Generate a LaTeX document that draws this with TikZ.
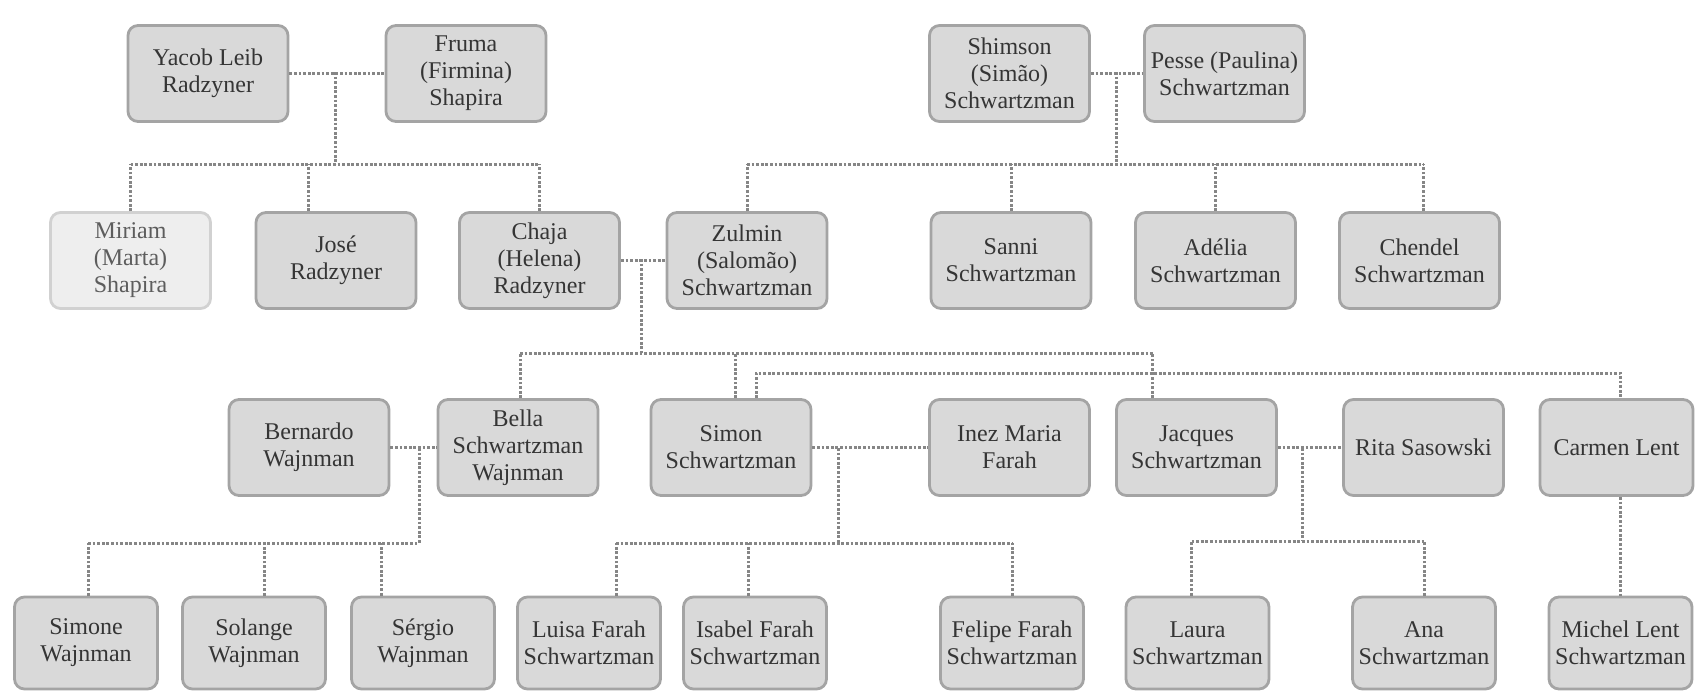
\documentclass[tikz,border=0pt]{standalone}
\usepackage{fontspec}
\setmainfont{Liberation Serif}

\definecolor{boxfill}{HTML}{D9D9D9}
\definecolor{boxline}{HTML}{A4A4A4}
\definecolor{linkgray}{HTML}{868686}
\definecolor{textgray}{HTML}{353535}

\tikzset{
  person/.style={draw=boxline, fill=boxfill, line width=1.4pt, rounded corners=5pt,
    minimum width=80pt, minimum height=48pt, inner sep=1pt, align=center,
    text=textgray, font=\fontsize{12}{13.5}\selectfont},
  young/.style={person, minimum width=71.5pt, minimum height=46pt},
  faded/.style={draw=boxline!50, fill=boxfill!45, text=textgray!80},
  link/.style={linkgray, line width=1.5pt, dash pattern=on 1.4pt off 0.9pt}
}

\begin{document}
\begin{tikzpicture}[x=0.5pt, y=-0.5pt]
\useasboundingbox (0,0) rectangle (1695,691);

% Grandparents
\node[person] (yacob) at (208,73.5) {Yacob Leib\\Radzyner};
\node[person] (fruma) at (466,73.5) {Fruma\\(Firmina)\\Shapira};
\node[person] (shimson) at (1009.5,73.5) {Shimson\\(Simão)\\Schwartzman};
\node[person] (pesse) at (1224.5,73.5) {Pesse (Paulina)\\Schwartzman};

% Parents and uncles
\node[person, faded] (miriam) at (130.5,260.5) {Miriam\\(Marta)\\Shapira};
\node[person] (jose) at (336,260.5) {José\\Radzyner};
\node[person] (chaja) at (539.5,260.5) {Chaja\\(Helena)\\Radzyner};
\node[person] (zulmin) at (747,260.5) {Zulmin\\(Salomão)\\Schwartzman};
\node[person] (sanni) at (1011,260.5) {Sanni\\Schwartzman};
\node[person] (adelia) at (1215.5,260.5) {Adélia\\Schwartzman};
\node[person] (chendel) at (1419.5,260.5) {Chendel\\Schwartzman};

% Children and partners
\node[person] (bernardo) at (309,447.5) {Bernardo\\Wajnman};
\node[person] (bella) at (518,447.5) {Bella\\Schwartzman\\Wajnman};
\node[person] (simon) at (731,447.5) {Simon\\Schwartzman};
\node[person] (inez) at (1009.5,447.5) {Inez Maria\\Farah};
\node[person] (jacques) at (1196.5,447.5) {Jacques\\Schwartzman};
\node[person] (rita) at (1423.5,447.5) {Rita Sasowski};
\node[person, minimum width=76.5pt] (carmen) at (1616.5,447.5) {Carmen Lent};

% Grandchildren
\node[young] (simone) at (86,643) {Simone\\Wajnman};
\node[young] (solange) at (254,643) {Solange\\Wajnman};
\node[young] (sergio) at (423,643) {Sérgio\\Wajnman};
\node[young] (luisa) at (589,643) {Luisa Farah\\Schwartzman};
\node[young] (isabel) at (755,643) {Isabel Farah\\Schwartzman};
\node[young] (felipe) at (1012,643) {Felipe Farah\\Schwartzman};
\node[young] (laura) at (1197.5,643) {Laura\\Schwartzman};
\node[young] (ana) at (1424,643) {Ana\\Schwartzman};
\node[young] (michel) at (1620.5,643) {Michel Lent\\Schwartzman};

% Radzyner family
\coordinate (rz) at (335,72);
\coordinate (rzbar) at (335,164);
\draw[link] (yacob) -- (fruma);
\draw[link] (rz) -- (rzbar);
\draw[link] (miriam.north |- rzbar) -- (chaja.north |- rzbar);
\draw[link] (miriam.north) -- (miriam.north |- rzbar);
\draw[link] ([xshift=-14pt]jose.north) -- ([xshift=-14pt]jose.north |- rzbar);
\draw[link] (chaja.north) -- (chaja.north |- rzbar);

% Schwartzman family
\coordinate (sw) at (1116,72);
\coordinate (swbar) at (1116,164);
\draw[link] (shimson) -- (pesse);
\draw[link] (sw) -- (swbar);
\draw[link] (zulmin.north |- swbar) -- ([xshift=2pt]chendel.north |- swbar);
\draw[link] (zulmin.north) -- (zulmin.north |- swbar);
\draw[link] (sanni.north) -- (sanni.north |- swbar);
\draw[link] (adelia.north) -- (adelia.north |- swbar);
\draw[link] ([xshift=2pt]chendel.north) -- ([xshift=2pt]chendel.north |- swbar);

% Chaja and Zulmin
\coordinate (cz) at (641,259);
\coordinate (czbar) at (641,353);
\draw[link] (chaja) -- (zulmin);
\draw[link] (cz) -- (czbar);
\draw[link] ([xshift=1pt]bella.north |- czbar) -- ([xshift=-22pt]jacques.north |- czbar);
\draw[link] ([xshift=1pt]bella.north) -- ([xshift=1pt]bella.north |- czbar);
\draw[link] ([xshift=2pt]simon.north) -- ([xshift=2pt]simon.north |- czbar);
\draw[link] ([xshift=-22pt]jacques.north) -- ([xshift=-22pt]jacques.north |- czbar);

% Bernardo and Bella
\coordinate (bb) at (419,448);
\coordinate (bbbar) at (419,543);
\draw[link] (bernardo) -- (bella);
\draw[link] (bb) -- (bbbar);
\draw[link] ([xshift=1pt]simone.north |- bbbar) -- (bbbar);
\draw[link] ([xshift=1pt]simone.north) -- ([xshift=1pt]simone.north |- bbbar);
\draw[link] ([xshift=5pt]solange.north) -- ([xshift=5pt]solange.north |- bbbar);
\draw[link] ([xshift=-21pt]sergio.north) -- ([xshift=-21pt]sergio.north |- bbbar);

% Simon and Inez
\coordinate (si) at (838,448);
\coordinate (sibar) at (838,543);
\draw[link] (simon) -- (inez);
\draw[link] (si) -- (sibar);
\draw[link] ([xshift=13.5pt]luisa.north |- sibar) -- (felipe.north |- sibar);
\draw[link] ([xshift=13.5pt]luisa.north) -- ([xshift=13.5pt]luisa.north |- sibar);
\draw[link] ([xshift=-3.5pt]isabel.north) -- ([xshift=-3.5pt]isabel.north |- sibar);
\draw[link] (felipe.north) -- (felipe.north |- sibar);

% Simon and Carmen
\draw[link] ([xshift=12.5pt]simon.north) -- ++(0,-25) -| ([xshift=2pt]carmen.north);
\draw[link] ([xshift=2pt]carmen.south) -- ([xshift=2pt]carmen.south |- michel.north);

% Jacques and Rita
\coordinate (jr) at (1302,448);
\coordinate (jrbar) at (1302,541);
\draw[link] (jacques) -- (rita);
\draw[link] (jr) -- (jrbar);
\draw[link] ([xshift=-3pt]laura.north |- jrbar) -- (ana.north |- jrbar);
\draw[link] ([xshift=-3pt]laura.north) -- ([xshift=-3pt]laura.north |- jrbar);
\draw[link] (ana.north) -- (ana.north |- jrbar);

\end{tikzpicture}
\end{document}
